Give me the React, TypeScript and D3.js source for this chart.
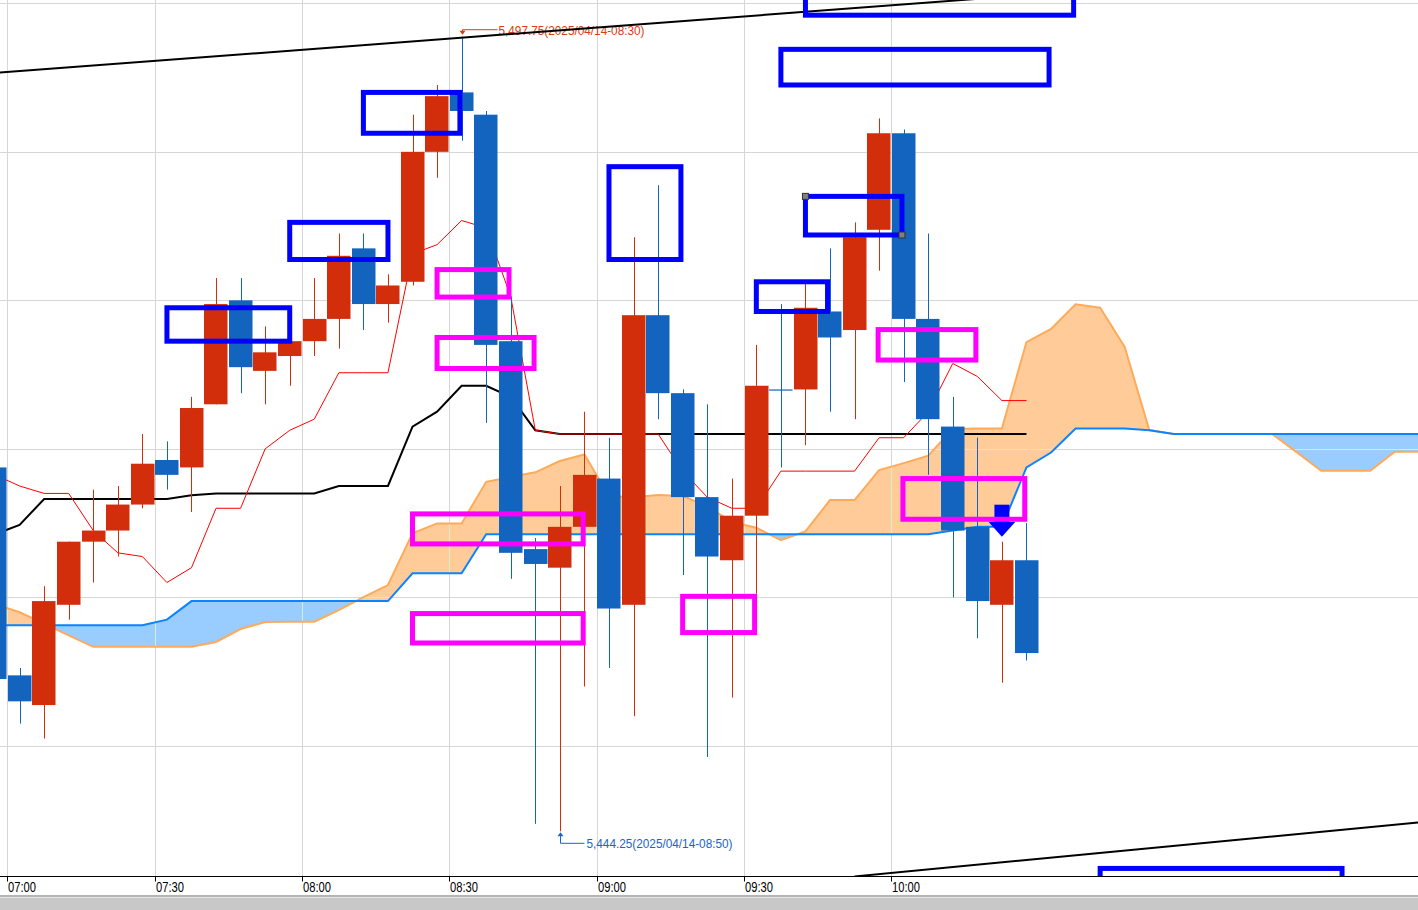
import React, { useEffect, useRef } from 'react';
import * as d3 from 'd3';

const WIDTH = 1418;
const HEIGHT = 910;
const PLOT_BOTTOM = 876;

// 5-minute bars of 2025/04/14, first bar is 06:55 (index -1, 07:00 is index 0)
const FIRST_BAR = -1;

const opens = [
  5468.75, 5454.75, 5452.75, 5459.5, 5463.75, 5464.5, 5466.25, 5469.25, 5468.75, 5473,
  5480, 5475.25, 5476.25, 5477.25, 5478.75, 5483.5, 5479.75, 5481.25, 5490, 5494,
  5492.5, 5477.25, 5463.25, 5462, 5464.75, 5468, 5459.5, 5479, 5473.75, 5466.75,
  5462.5, 5465.5, 5474, 5474, 5479.25, 5478, 5484.75, 5491.25, 5478.75, 5471.5,
  5464.75, 5459.5, 5462.5,
];
const highs = [
  5469.5, 5455.25, 5460.75, 5463.75, 5467.25, 5467.5, 5471, 5470.5, 5473.5, 5481.5,
  5481.5, 5478.25, 5477.75, 5481.5, 5484.5, 5484.5, 5481.75, 5492.5, 5494.5, 5497.75,
  5492.75, 5480.25, 5464, 5467.5, 5472.5, 5470.75, 5484.25, 5487.75, 5474, 5473,
  5468, 5477, 5479.75, 5481.25, 5483.5, 5485.25, 5492.25, 5491.5, 5484.5, 5473.5,
  5470.75, 5463.75, 5465,
];
const lows = [
  5453, 5451.5, 5450.5, 5458.5, 5461, 5462.75, 5466, 5467.25, 5465.75, 5473,
  5473.75, 5473, 5474.25, 5476.25, 5476.75, 5478, 5478.5, 5481, 5488.25, 5490.75,
  5471.75, 5461.25, 5444.75, 5444.25, 5454, 5455.25, 5452, 5472, 5461.5, 5449.25,
  5453.25, 5460.25, 5468.75, 5470.25, 5472.5, 5472, 5482, 5474.5, 5468.25, 5460,
  5457.25, 5454.25, 5455.75,
];
const closes = [
  5454.5, 5453, 5459.75, 5463.75, 5464.5, 5466.25, 5469, 5468.25, 5472.75, 5479.75,
  5475.5, 5476.5, 5477.25, 5478.75, 5483, 5479.75, 5481, 5490, 5493.75, 5492.75,
  5477, 5463, 5462.25, 5464.75, 5468.25, 5459.25, 5479, 5473.75, 5466.75, 5462.75,
  5465.5, 5474.25, 5474, 5479.5, 5477.5, 5484.25, 5491.25, 5478.75, 5472, 5464.5,
  5459.75, 5462.5, 5456.25,
];

// Ichimoku lines, same bars as above
const tenkan = [
  5468.25, 5467.5, 5467, 5467, 5464.5, 5463, 5462.75, 5461, 5462, 5466,
  5466, 5470, 5471.25, 5472, 5475.125, 5475.125, 5475.125, 5483.125, 5483.75, 5485.375,
  5484.875, 5480.25, 5471.25, 5471, 5471, 5471, 5471, 5471, 5468.5, 5466.75,
  5466, 5466, 5468.5, 5468.5, 5468.5, 5468.5, 5470.75, 5470.75, 5472.5, 5475.75,
  5474.875, 5473.25, 5473.25,
];
const kijun = [
  5464.25, 5464.875, 5466.625, 5466.625, 5466.625, 5466.625, 5466.625, 5466.625, 5466.875, 5467,
  5467, 5467, 5467, 5467, 5467.5, 5467.5, 5467.5, 5471.5, 5472.5, 5474.25,
  5474.25, 5473.5, 5471.25, 5471, 5471, 5471, 5471, 5471, 5471, 5471,
  5471, 5471, 5471, 5471, 5471, 5471, 5471, 5471, 5471, 5471,
  5471, 5471, 5471,
];

// leading spans, from 06:55 out to 11:40
const spanA = [
  5458.125, 5458.125, 5458.125, 5458.125, 5458.125, 5458.125, 5458.125, 5458.5, 5459.75, 5459.75,
  5459.75, 5459.75, 5459.75, 5459.75, 5459.75, 5459.75, 5459.75, 5461.625, 5461.625, 5461.625,
  5464.25, 5464.25, 5464.25, 5464.25, 5464.25, 5464.25, 5464.25, 5464.25, 5464.25, 5464.25,
  5464.25, 5464.25, 5464.25, 5464.25, 5464.25, 5464.25, 5464.25, 5464.25, 5464.25, 5464.5,
  5464.75, 5464.75, 5468.75, 5469.75, 5471.375, 5471.375, 5471.375, 5471.25, 5471, 5471,
  5471, 5471, 5471, 5471, 5471, 5471, 5471, 5471, 5471,
];
const spanB = [
  5459.55, 5459, 5458.23, 5457.44, 5456.67, 5456.67, 5456.67, 5456.67, 5456.67, 5457,
  5457.87, 5458.34, 5458.36, 5458.36, 5459.14, 5460.02, 5460.83, 5464.31, 5464.98, 5464.98,
  5467.78, 5468.1, 5468.42, 5469.18, 5469.62, 5466.82, 5466.75, 5466.89, 5466.82, 5466.15,
  5465.07, 5464.69, 5463.86, 5464.44, 5466.55, 5466.55, 5468.57, 5469.04, 5469.54, 5471.33,
  5471.37, 5471.37, 5477.19, 5478.07, 5479.73, 5479.5, 5476.86, 5471.27, 5471, 5471,
  5471, 5471, 5471, 5469.78, 5468.53, 5468.53, 5468.53, 5469.8, 5469.8,
];

const timeLabels = ['07:00', '07:30', '08:00', '08:30', '09:00', '09:30', '10:00'];
const priceGrid = [5500, 5490, 5480, 5470, 5460, 5450];

// drawn boxes: [from bar, to bar, top price, bottom price]
const blueBoxes = [
  [6, 11, 5479.5, 5477.25],
  [11, 15, 5485.25, 5482.75],
  [14, 17.93, 5494, 5491.25],
  [24, 26.93, 5489, 5482.75],
  [30, 32.9, 5481.25, 5479.25],
  [32, 35.93, 5487, 5484.4],
  [31, 41.92, 5496.9, 5494.5],
  [32, 42.92, 5502.5, 5499.2],
  [44, 53.85, 5441.75, 5438.5],
];
const magentaBoxes = [
  [17, 19.93, 5482.07, 5480.22],
  [17, 20.95, 5477.5, 5475.41],
  [16, 22.95, 5465.62, 5463.6],
  [16, 22.95, 5458.91, 5456.93],
  [27, 29.93, 5460.07, 5457.63],
  [34.96, 38.94, 5478.03, 5475.98],
  [35.97, 40.93, 5468, 5465.26],
];
const selectedBox = 5; // blue box with handles

// trend lines: [bar, price] pairs
const upperTrend = [[-1, 5495.31], [60, 5502.92]];
const lowerTrend = [[34, 5441.21], [57, 5444.85]];

const sellSignals = [40];

const highMark = { bar: 18, label: '5,497.75(2025/04/14-08:30)' };
const lowMark = { bar: 22, label: '5,444.25(2025/04/14-08:50)' };

const UP = '#D22E0C';
const DOWN = '#1264BE';
const FONT = "'Liberation Sans', Arial, sans-serif";

export default function App() {
  const svgRef = useRef<SVGSVGElement>(null);

  useEffect(() => {
    if (!svgRef.current) return;
    const svg = d3.select(svgRef.current);
    svg.selectAll('*').remove();

    // minutes after 07:00 -> px
    const x = d3.scaleLinear().domain([0, 180]).range([7.3, 891.4]);
    const y = d3.scaleLinear().domain([5450, 5500]).range([745.9, 3.3]);
    const barX = (i: number) => x(i * 5 + 2.5);
    const bodyW = 23.5;

    svg.append('rect').attr('width', WIDTH).attr('height', HEIGHT).attr('fill', '#fff');

    const defs = svg.append('defs');
    defs.append('clipPath').attr('id', 'plot')
      .append('rect').attr('x', 0).attr('y', 0).attr('width', WIDTH).attr('height', PLOT_BOTTOM);

    type CloudPt = { i: number; a: number; b: number };
    const cloud: CloudPt[] = spanA.map((a, k) => ({ i: k + FIRST_BAR, a, b: spanB[k] }));

    defs.append('clipPath').attr('id', 'aboveA').append('path')
      .attr('d', d3.area<CloudPt>().x(d => barX(d.i)).y0(-50).y1(d => y(d.a))(cloud));
    defs.append('clipPath').attr('id', 'belowA').append('path')
      .attr('d', d3.area<CloudPt>().x(d => barX(d.i)).y0(d => y(d.a)).y1(HEIGHT + 50)(cloud));
    const between = d3.area<CloudPt>().x(d => barX(d.i)).y0(d => y(d.a)).y1(d => y(d.b));
    defs.append('clipPath').attr('id', 'cloudArea').append('path').attr('d', between(cloud));

    const plot = svg.append('g').attr('clip-path', 'url(#plot)');

    const gridLines = (g: d3.Selection<SVGGElement, unknown, null, undefined>, color: string) => {
      priceGrid.forEach(p => {
        const yy = Math.round(y(p)) + 0.5;
        g.append('line').attr('x1', 0).attr('x2', WIDTH).attr('y1', yy).attr('y2', yy)
          .attr('stroke', color).attr('stroke-width', 1);
      });
      timeLabels.forEach((_, k) => {
        const xx = Math.round(x(k * 30)) + 0.5;
        g.append('line').attr('x1', xx).attr('x2', xx).attr('y1', 0).attr('y2', PLOT_BOTTOM)
          .attr('stroke', color).attr('stroke-width', 1);
      });
    };
    gridLines(plot.append('g'), '#D6D6D6');

    // cloud
    plot.append('path').attr('d', between(cloud)).attr('fill', '#FFCC99').attr('clip-path', 'url(#aboveA)');
    plot.append('path').attr('d', between(cloud)).attr('fill', '#99CCFF').attr('clip-path', 'url(#belowA)');
    gridLines(plot.append('g').attr('clip-path', 'url(#cloudArea)'), '#D2F0CC');

    const lineOf = (vals: number[]) =>
      d3.line<number>().x((_, k) => barX(k + FIRST_BAR)).y(v => y(v))(vals);

    plot.append('path').attr('d', lineOf(spanB)).attr('fill', 'none').attr('stroke', '#FFAA5A').attr('stroke-width', 2);
    plot.append('path').attr('d', lineOf(spanA)).attr('fill', 'none').attr('stroke', '#0A84FF').attr('stroke-width', 2);
    plot.append('path').attr('d', lineOf(kijun)).attr('fill', 'none').attr('stroke', '#000').attr('stroke-width', 2);
    plot.append('path').attr('d', lineOf(tenkan)).attr('fill', 'none').attr('stroke', '#FF0000').attr('stroke-width', 1);

    // candles
    opens.forEach((o, k) => {
      const i = k + FIRST_BAR;
      const c = closes[k];
      const color = c > o ? UP : DOWN;
      const cx = barX(i);
      const wx = Math.round(cx) + 0.5;
      plot.append('line').attr('x1', wx).attr('x2', wx)
        .attr('y1', y(highs[k])).attr('y2', y(lows[k]))
        .attr('stroke', color).attr('stroke-width', 1);
      const top = y(Math.max(o, c));
      const h = Math.max(1.2, Math.abs(y(o) - y(c)));
      plot.append('rect').attr('x', Math.round(cx - bodyW / 2)).attr('y', top)
        .attr('width', bodyW).attr('height', h).attr('fill', color);
    });

    // high / low annotations
    {
      const k = highMark.bar - FIRST_BAR;
      const hx = Math.round(barX(highMark.bar)) + 0.5;
      const hy = y(highs[k]) - 3;
      const ly = hy - 4;
      plot.append('path').attr('d', `M${hx},${hy} L${hx},${ly} L${hx + 35},${ly}`)
        .attr('fill', 'none').attr('stroke', '#D93A12').attr('stroke-width', 1);
      plot.append('path').attr('d', `M${hx - 3},${hy - 3} L${hx + 3},${hy - 3} L${hx},${hy + 1} Z`)
        .attr('fill', '#D93A12');
      plot.append('text').attr('x', hx + 36).attr('y', ly + 5)
        .attr('font-family', FONT).attr('font-size', 13).attr('fill', '#D93A12')
        .attr('textLength', 146).attr('lengthAdjust', 'spacingAndGlyphs')
        .text(highMark.label);
    }
    {
      const k = lowMark.bar - FIRST_BAR;
      const lx = Math.round(barX(lowMark.bar)) + 0.5;
      const ty = y(lows[k]) + 2;
      const ly = ty + 10;
      plot.append('path').attr('d', `M${lx},${ty} L${lx},${ly} L${lx + 24},${ly}`)
        .attr('fill', 'none').attr('stroke', '#1A64C8').attr('stroke-width', 1);
      plot.append('path').attr('d', `M${lx - 3},${ty + 3} L${lx + 3},${ty + 3} L${lx},${ty - 1} Z`)
        .attr('fill', '#1A64C8');
      plot.append('text').attr('x', lx + 26).attr('y', ly + 4.5)
        .attr('font-family', FONT).attr('font-size', 13).attr('fill', '#1A64C8')
        .attr('textLength', 146).attr('lengthAdjust', 'spacingAndGlyphs')
        .text(lowMark.label);
    }

    // sell signal arrows
    sellSignals.forEach(i => {
      const k = i - FIRST_BAR;
      const cx = barX(i);
      const apex = y(highs[k]) - 5;
      plot.append('rect').attr('x', cx - 7.5).attr('y', apex - 32).attr('width', 15).attr('height', 18).attr('fill', '#0000FF');
      plot.append('path')
        .attr('d', `M${cx - 13.5},${apex - 15} L${cx + 13.5},${apex - 15} L${cx},${apex} Z`)
        .attr('fill', '#0000FF');
    });

    // trend lines
    [upperTrend, lowerTrend].forEach(t => {
      plot.append('line')
        .attr('x1', barX(t[0][0])).attr('y1', y(t[0][1]))
        .attr('x2', barX(t[1][0])).attr('y2', y(t[1][1]))
        .attr('stroke', '#000').attr('stroke-width', 2);
    });

    // drawn boxes
    const drawBox = (b: number[], color: string) => {
      const x0 = barX(b[0]);
      const x1 = barX(b[1]);
      const y0 = y(b[2]);
      const y1 = y(b[3]);
      plot.append('rect').attr('x', x0).attr('y', y0).attr('width', x1 - x0).attr('height', y1 - y0)
        .attr('fill', 'none').attr('stroke', color).attr('stroke-width', 5);
    };
    magentaBoxes.forEach(b => drawBox(b, '#FF00FF'));
    blueBoxes.forEach(b => drawBox(b, '#0000FF'));

    const sel = blueBoxes[selectedBox];
    [[sel[0], sel[2]], [sel[1], sel[3]]].forEach(([bi, bp]) => {
      plot.append('rect').attr('x', barX(bi) - 3).attr('y', y(bp) - 3).attr('width', 6).attr('height', 6)
        .attr('fill', '#808080').attr('stroke', '#333').attr('stroke-width', 1);
    });

    // time axis
    const axisY = PLOT_BOTTOM + 0.5;
    svg.append('line').attr('x1', 0).attr('x2', WIDTH).attr('y1', axisY).attr('y2', axisY)
      .attr('stroke', '#000').attr('stroke-width', 1);
    timeLabels.forEach((label, k) => {
      const tx = Math.round(x(k * 30)) + 0.5;
      svg.append('line').attr('x1', tx).attr('x2', tx).attr('y1', axisY).attr('y2', axisY + 5)
        .attr('stroke', '#000').attr('stroke-width', 1);
      svg.append('text').attr('x', tx + 0.5).attr('y', 892)
        .attr('font-family', FONT).attr('font-size', 14).attr('fill', '#000')
        .attr('textLength', 28).attr('lengthAdjust', 'spacingAndGlyphs')
        .text(label);
    });

    // bottom scrollbar strip
    svg.append('rect').attr('x', 0).attr('y', 895).attr('width', WIDTH).attr('height', 2).attr('fill', '#B4B4B4');
    svg.append('rect').attr('x', 0).attr('y', 897).attr('width', WIDTH).attr('height', 1).attr('fill', '#E6E6E6');
    svg.append('rect').attr('x', 0).attr('y', 898).attr('width', WIDTH).attr('height', 12).attr('fill', '#C8C8C8');
  }, []);

  return (
    <div style={{ position: 'fixed', left: 0, top: 0, width: WIDTH, height: HEIGHT, background: '#fff' }}>
      <svg ref={svgRef} width={WIDTH} height={HEIGHT} style={{ display: 'block' }} />
    </div>
  );
}
